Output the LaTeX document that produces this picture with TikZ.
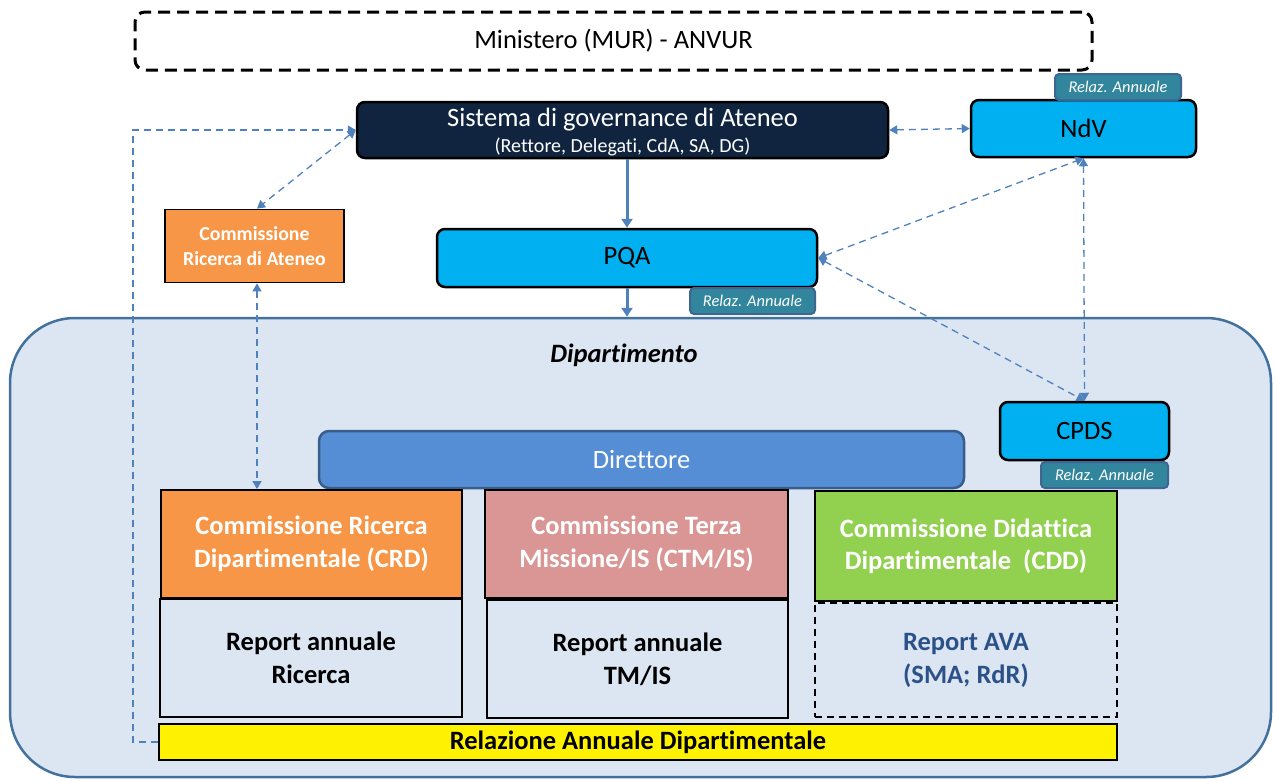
\documentclass[tikz,border=0pt]{standalone}
\usepackage{fontspec}
\setmainfont{Carlito}[Ligatures=NoCommon]
\usetikzlibrary{arrows.meta,calc}
\definecolor{navy}{HTML}{10243F}
\definecolor{cyanb}{HTML}{00B0F0}
\definecolor{orangeb}{HTML}{F79646}
\definecolor{pinkb}{HTML}{D99694}
\definecolor{greenb}{HTML}{92D050}
\definecolor{dirfill}{HTML}{558ED5}
\definecolor{dirline}{HTML}{385D8A}
\definecolor{bgfill}{HTML}{DCE6F2}
\definecolor{bgline}{HTML}{41719C}
\definecolor{tagfill}{HTML}{31859C}
\definecolor{tagline}{HTML}{3F6593}
\definecolor{arrowc}{HTML}{4F81BD}
\definecolor{avatext}{HTML}{2B5189}
\tikzset{
  box/.style={draw=black, line width=2.5pt, rounded corners=8pt, align=center, inner sep=0pt},
  sqbox/.style={draw=black, line width=1.8pt, align=center, inner sep=0pt},
  big/.style={font=\fontsize{26.5}{30}\selectfont},
  bigbold/.style={font=\fontsize{26.5}{33}\selectfont\bfseries},
  tagbox/.style={draw=tagline, fill=tagfill, line width=2pt, rounded corners=4pt, text=white,
     font=\fontsize{16.4}{18}\selectfont\itshape, minimum width=126pt, minimum height=26pt, inner sep=0pt},
  dline/.style={draw=arrowc, line width=1.3pt, dash pattern=on 7pt off 5pt},
  dtip/.style={{Triangle[width=9pt,length=8pt]}-{Triangle[width=9pt,length=8pt]}},
  stip/.style={-{Triangle[width=11pt,length=9pt]}},
  sline/.style={draw=arrowc, line width=3pt},
}
\begin{document}
\begin{tikzpicture}[x=1pt,y=-1pt]
\useasboundingbox (0,0) rectangle (1275,780);
% Dipartimento background
\node[draw=bgline, fill=bgfill, line width=2.5pt, rounded corners=65pt, minimum width=1261pt, minimum height=459pt, inner sep=0pt] (dip) at (640.5,547.5) {};
\node[font=\fontsize{26.5}{30}\selectfont\bfseries\itshape] (diptitle) at (624,355) {Dipartimento};

% Ministero
\node[draw=black, line width=3pt, dash pattern=on 12pt off 7pt, rounded corners=10pt, minimum width=957pt, minimum height=58pt, big] (min) at (613.5,41) {Ministero (MUR) - ANVUR};

% Sistema
\node[box, fill=navy, minimum width=531pt, minimum height=56pt] (sys) at (622.5,130) {};
\node[text=white, font=\fontsize{26.5}{28}\selectfont, inner sep=0pt] (systitle) at (622.5,120) {Sistema di governance di Ateneo};
\node[text=white, font=\fontsize{20}{22}\selectfont, inner sep=0pt] (syssub) at (622.5,147) {(Rettore, Delegati, CdA, SA, DG)};

% NdV
\node[box, fill=cyanb, minimum width=225pt, minimum height=57pt, big] (ndv) at (1083.5,128.5) {NdV};
\node[tagbox] (tag1) at (1118,87) {Relaz. Annuale};

% Commissione Ricerca di Ateneo
\node[sqbox, fill=orangeb, text=white, minimum width=179pt, minimum height=73pt, font=\fontsize{19.8}{25}\selectfont\bfseries] (cra) at (254.5,246) {Commissione\\Ricerca di Ateneo};

% PQA
\node[box, fill=cyanb, minimum width=380pt, minimum height=58pt, big] (pqa) at (627,258) {PQA};
\node[tagbox, minimum width=125pt] (tag2) at (752.5,301) {Relaz. Annuale};

% CPDS
\node[box, fill=cyanb, minimum width=169pt, minimum height=58pt, big] (cpds) at (1084.5,431) {CPDS};
\node[tagbox, minimum width=127pt] (tag3) at (1104.5,475) {Relaz. Annuale};

% Direttore
\node[draw=dirline, fill=dirfill, line width=2.5pt, rounded corners=10pt, minimum width=645pt, minimum height=57pt, text=white, big] (dir) at (641.5,459.5) {Direttore};

% Commissions
\node[sqbox, fill=orangeb, text=white, minimum width=301pt, minimum height=108pt, bigbold] (crd) at (311.5,544) {Commissione Ricerca\\Dipartimentale (CRD)};
\node[sqbox, fill=bgfill, minimum width=302pt, minimum height=118pt, bigbold] (rep1) at (311,658) {Report annuale\\Ricerca};

\node[sqbox, fill=pinkb, text=white, minimum width=303pt, minimum height=108pt, bigbold] (ctm) at (636.5,544) {Commissione Terza\\Missione/IS (CTM/IS)};
\node[sqbox, fill=bgfill, minimum width=301pt, minimum height=118pt, bigbold] (rep2) at (637.5,659) {Report annuale\\TM/IS};

\node[sqbox, fill=greenb, text=white, minimum width=302pt, minimum height=110pt, font=\fontsize{26.5}{32}\selectfont\bfseries] (cdd) at (966,546) {Commissione Didattica\\Dipartimentale~~(CDD)};
\node[sqbox, fill=bgfill, dash pattern=on 7pt off 5pt, minimum width=302pt, minimum height=114pt, bigbold, text=avatext] (rep3) at (966,660) {Report AVA\\(SMA; RdR)};

% Relazione
\node[sqbox, fill=yellow, minimum width=958pt, minimum height=36pt, font=\fontsize{26.5}{30}\selectfont\bfseries] (rel) at (638,742) {Relazione Annuale Dipartimentale};

% Connectors
\coordinate (c1) at (133,742);
\coordinate (c2) at (133,130);
\draw[dline, -{Triangle[width=9pt,length=8pt]}] (rel.west) -- (c1) -- (c2) -- (sys.west);
\draw[dline, dtip] (sys.west) -- ([xshift=2.5pt]cra.north);
\draw[dline, dtip] ([xshift=2.5pt]cra.south) -- ([xshift=2.5pt]cra.south |- crd.north);
\draw[sline, stip] (pqa.north |- sys.south) -- (pqa.north);
\draw[sline, stip] (pqa.south) -- (pqa.south |- dip.north);
\draw[dline, dtip] (sys.east) -- (ndv.west);
\draw[dline, dtip] (pqa.east) -- (ndv.south);
\draw[dline, dtip] (pqa.east) -- (cpds.north);
\draw[dline, dtip] (ndv.south) -- (cpds.north);
\end{tikzpicture}
\end{document}
